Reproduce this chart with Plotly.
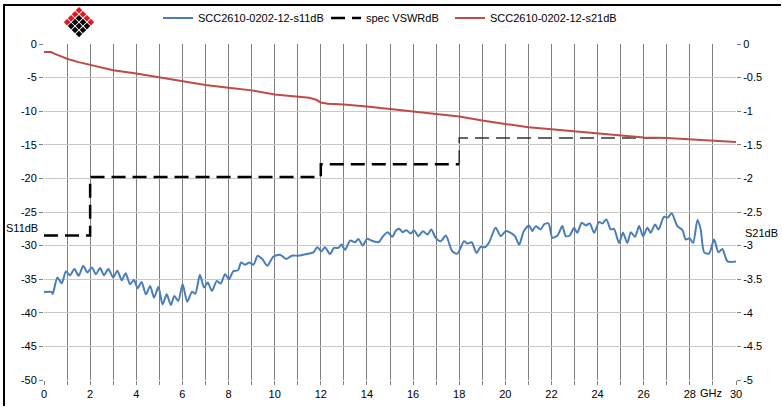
import plotly.graph_objects as go

# ---------------- data ----------------
s11_ghz = [0, 0.33, 0.38, 0.58, 0.77, 0.95, 1.13, 1.32, 1.5, 1.7, 1.88, 2.07, 2.25, 2.43, 2.6, 2.79,
           3.0, 3.18, 3.37, 3.54, 3.73, 3.9, 4.06, 4.23, 4.42, 4.6, 4.77, 4.96, 5.14, 5.32, 5.5, 5.65,
           5.82, 6.01, 6.21, 6.42, 6.56, 6.76, 6.94, 7.1, 7.28, 7.49, 7.66, 7.85, 8.02, 8.2, 8.42, 8.54,
           8.71, 8.9, 9.08, 9.26, 9.46, 9.68, 9.94, 10.23, 10.5, 10.74, 11.03, 11.39, 11.68, 11.85, 12.03,
           12.18, 12.4, 12.57, 12.76, 12.9, 13.05, 13.27, 13.48, 13.63, 13.82, 14.0, 14.2, 14.5, 14.7,
           14.9, 15.1, 15.25, 15.4, 15.54, 15.71, 15.9, 16.04, 16.23, 16.43, 16.62, 16.79, 16.98, 17.2,
           17.42, 17.7, 17.92, 18.21, 18.36, 18.54, 18.75, 18.93, 19.12, 19.3, 19.58, 19.8, 20.02, 20.23,
           20.42, 20.6, 20.8, 21.03, 21.17, 21.32, 21.53, 21.68, 21.87, 22.04, 22.26, 22.47, 22.62, 22.79,
           22.98, 23.12, 23.31, 23.49, 23.66, 23.85, 24.06, 24.21, 24.38, 24.57, 24.71, 24.93, 25.1, 25.29,
           25.44, 25.62, 25.8, 25.97, 26.16, 26.3, 26.49, 26.64, 26.88, 27.03, 27.21, 27.46, 27.68, 27.82,
           27.99, 28.14, 28.33, 28.47, 28.62, 28.83, 29.05, 29.24, 29.41, 29.63, 30.0]
s11_db = [-36.9, -36.9, -37.2, -34.75, -35.6, -33.85, -34.4, -33.5, -34.5, -33.0, -34.0, -33.25, -34.25,
          -33.35, -34.4, -33.5, -34.75, -33.75, -35.15, -34.1, -35.75, -35.1, -36.35, -35.4, -37.25, -36.0,
          -37.75, -36.15, -38.75, -37.25, -38.85, -37.5, -38.25, -35.75, -38.35, -36.85, -37.15, -34.35,
          -36.25, -35.5, -36.75, -35.25, -35.65, -34.25, -35.0, -33.85, -33.65, -32.5, -32.85, -32.5,
          -32.85, -31.5, -32.0, -33.0, -31.65, -31.35, -32.0, -31.5, -31.5, -31.25, -31.0, -30.25, -30.85,
          -30.25, -31.25, -30.35, -30.35, -29.85, -30.65, -29.25, -29.5, -29.0, -30.0, -29.0, -29.25, -29.5,
          -28.6, -28.0, -28.7, -27.8, -27.5, -28.0, -27.7, -28.2, -27.7, -28.6, -27.85, -28.35, -27.6,
          -28.85, -29.35, -28.5, -30.85, -31.2, -29.35, -29.7, -29.5, -31.1, -30.2, -30.25, -29.5, -27.35,
          -28.6, -27.85, -28.1, -28.6, -29.85, -27.85, -27.0, -27.85, -27.1, -27.6, -26.85, -26.7, -28.85,
          -28.5, -27.1, -28.6, -28.5, -27.35, -28.1, -26.6, -27.0, -26.7, -28.1, -26.5, -26.7, -26.1,
          -27.6, -27.5, -29.6, -28.1, -29.6, -28.0, -28.7, -27.1, -28.6, -27.35, -28.1, -26.85, -27.6,
          -25.7, -25.85, -25.2, -27.1, -27.7, -29.1, -28.9, -29.6, -26.2, -27.6, -31.0, -31.2, -29.1,
          -31.0, -30.5, -32.35, -32.35]

spec_ghz_a = [0, 2, 2, 12, 12, 18]
spec_db_a = [-28.5, -28.5, -19.8, -19.8, -17.9, -17.9]
spec_ghz_b = [18, 18, 26.6]
spec_db_b = [-17.9, -14.0, -14.0]

s21_ghz = [0, 0.3, 0.5, 1, 1.5, 2, 3, 4, 5, 6, 7, 8, 9, 10, 11, 11.5, 11.8, 12, 12.3, 13, 14, 15, 16,
           17, 18, 19, 20, 21, 22, 23, 24, 25, 26, 27, 28, 29, 30]
s21_db = [-0.12, -0.12, -0.15, -0.22, -0.27, -0.31, -0.39, -0.44, -0.50, -0.55, -0.61, -0.65, -0.69,
          -0.75, -0.78, -0.80, -0.83, -0.87, -0.89, -0.90, -0.93, -0.97, -1.01, -1.04, -1.08, -1.14,
          -1.19, -1.24, -1.27, -1.30, -1.33, -1.37, -1.39, -1.40, -1.42, -1.44, -1.46]

x_tickvals = list(range(0, 31))
x_ticktext = [str(v) if v % 2 == 0 else "" for v in x_tickvals]
y_tickvals = list(range(-50, 1, 5))
y_ticktext = ["0" if v == 0 else "-%d" % abs(v) for v in y_tickvals]
y2_tickvals = [v / 2 for v in range(-10, 1)]
y2_ticktext = ["0" if v == 0 else ("-%g" % abs(v)) for v in y2_tickvals]

name_s11 = "SCC2610-0202-12-s11dB"
name_spec = "spec VSWRdB"
name_s21 = "SCC2610-0202-12-s21dB"

# ---------------- layout geometry (pixels) ----------------
W, H = 782, 407
L, R, T, B = 44, 46, 44, 27
PW, PH = W - L - R, H - T - B


def px(xp):
    return (xp - L) / PW


def py(yp):
    return (H - B - yp) / PH


def rect_path(x0, y0, x1, y1):
    return "M %f,%f L %f,%f L %f,%f L %f,%f Z" % (
        px(x0), py(y0), px(x1), py(y0), px(x1), py(y1), px(x0), py(y1))


FONT = "Liberation Sans, Arial, sans-serif"
BLUE = "#4a7ebb"
RED = "#be4b48"

fig = go.Figure()
fig.add_trace(go.Scatter(x=s11_ghz, y=s11_db, mode="lines", name=name_s11,
                         line=dict(color=BLUE, width=2, shape="spline", smoothing=0.7),
                         legend="legend"))
fig.add_trace(go.Scatter(x=spec_ghz_a, y=spec_db_a, mode="lines", name=name_spec,
                         line=dict(color="black", width=2.5, dash="14px,7px"),
                         legend="legend2"))
fig.add_trace(go.Scatter(x=spec_ghz_b, y=spec_db_b, mode="lines", name=name_spec,
                         line=dict(color="#333333", width=1.5, dash="14px,7px"),
                         showlegend=False, legend="legend2"))
fig.add_trace(go.Scatter(x=s21_ghz, y=s21_db, mode="lines", name=name_s21, yaxis="y2",
                         line=dict(color=RED, width=2), legend="legend3"))

shapes = []
# outer frame (top and left edges visible in the window), drawn as thin filled bars
shapes.append(dict(type="path", xref="paper", yref="paper", path=rect_path(3, 4, 781, 6),
                   fillcolor="black", line=dict(width=0), layer="above"))
shapes.append(dict(type="path", xref="paper", yref="paper", path=rect_path(3, 4, 5, 406),
                   fillcolor="black", line=dict(width=0), layer="above"))

# logo: rotated 4x4 grid of small diamonds
cx, top = 79, 7
d, h = 3.95, 3.3
for i in range(4):
    for j in range(4):
        x_c = cx + (i - j) * d
        y_c = top + h + (i + j) * d
        color = "#e3161d" if (i == 0 or j == 0) else "black"
        path = "M %f,%f L %f,%f L %f,%f L %f,%f Z" % (
            px(x_c), py(y_c - h), px(x_c + h), py(y_c), px(x_c), py(y_c + h), px(x_c - h), py(y_c))
        shapes.append(dict(type="path", xref="paper", yref="paper", path=path,
                           fillcolor=color, line=dict(width=0), layer="above"))

annotations = [
    dict(text="S11dB", xref="paper", yref="paper", x=px(22), y=py(228), showarrow=False,
         font=dict(family=FONT, size=11, color="black"), xanchor="center", yanchor="middle"),
    dict(text="S21dB", xref="paper", yref="paper", x=px(761), y=py(233), showarrow=False,
         font=dict(family=FONT, size=11, color="black"), xanchor="center", yanchor="middle"),
    dict(text="GHz", xref="paper", yref="paper", x=px(711), y=py(393), showarrow=False,
         font=dict(family=FONT, size=11, color="black"), xanchor="center", yanchor="middle"),
]

legend_common = dict(orientation="h", yanchor="middle", xanchor="left", bgcolor="rgba(0,0,0,0)",
                     font=dict(family=FONT, size=11, color="black"), borderwidth=0,
                     itemwidth=30, tracegroupgap=0)

fig.update_layout(
    width=W, height=H,
    margin=dict(l=L, r=R, t=T, b=B, autoexpand=False),
    paper_bgcolor="white", plot_bgcolor="white",
    font=dict(family=FONT, size=11, color="black"),
    showlegend=True,
    legend=dict(x=px(158), y=py(18), **legend_common),
    legend2=dict(x=px(326), y=py(18), **legend_common),
    legend3=dict(x=px(450), y=py(18), **legend_common),
    xaxis=dict(range=[0, 30], tickmode="array", tickvals=x_tickvals, ticktext=x_ticktext,
               showgrid=True, gridcolor="#7f7f7f", gridwidth=1, zeroline=False, showline=False,
               ticks="outside", ticklen=4, tickcolor="#7f7f7f",
               tickfont=dict(family=FONT, size=11, color="black")),
    yaxis=dict(range=[-50, 0], tickmode="array", tickvals=y_tickvals, ticktext=y_ticktext,
               showgrid=True, gridcolor="#c8c8c8", gridwidth=1, zeroline=False, showline=False,
               ticks="outside", ticklen=4, tickcolor="#7f7f7f",
               tickfont=dict(family=FONT, size=11, color="black")),
    yaxis2=dict(range=[-5, 0], overlaying="y", side="right", tickmode="array",
                tickvals=y2_tickvals, ticktext=y2_ticktext, showgrid=False, zeroline=False,
                showline=False, ticks="outside", ticklen=4, tickcolor="#7f7f7f",
                tickfont=dict(family=FONT, size=11, color="black")),
    shapes=shapes,
    annotations=annotations,
)

fig.write_html("out.html", config={"displayModeBar": False},
               post_script="document.body.style.margin='0';")
